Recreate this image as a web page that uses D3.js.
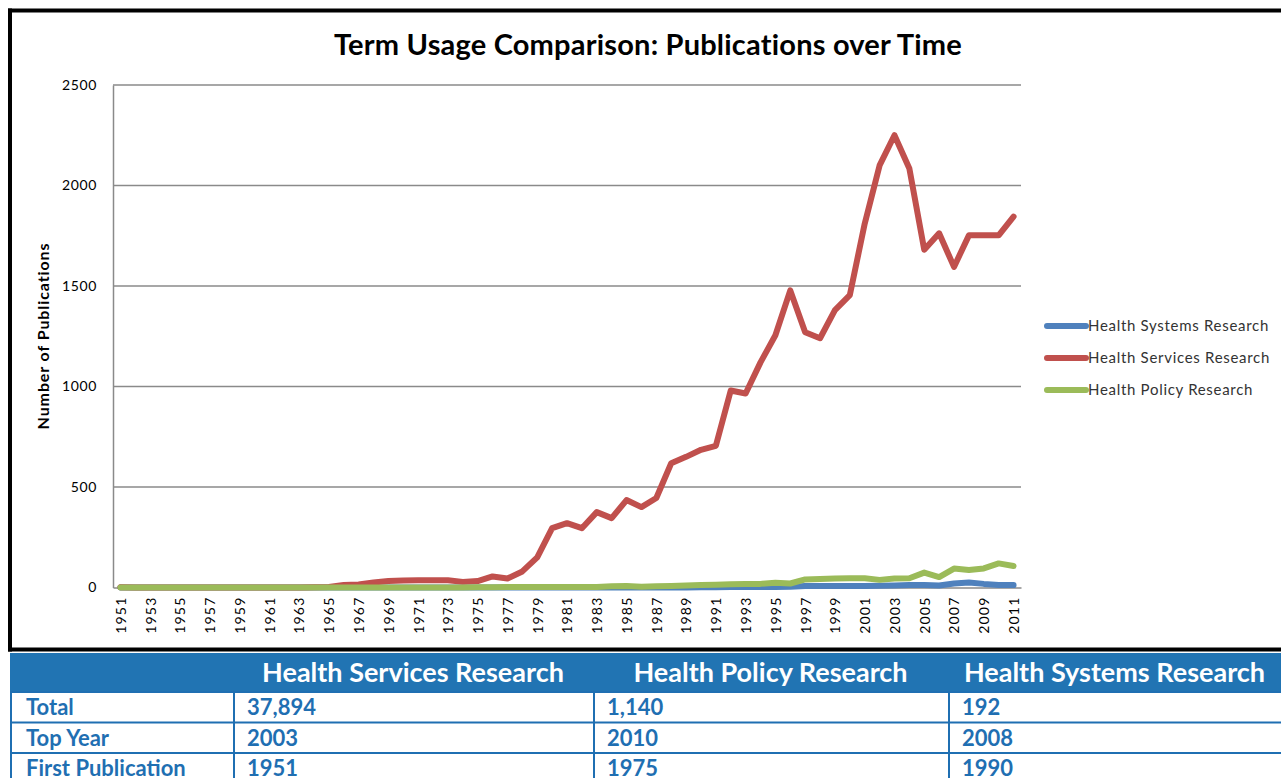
<!DOCTYPE html>
<html>
<head>
<meta charset="utf-8">
<script src="https://cdn.jsdelivr.net/npm/d3@7/dist/d3.min.js"></script>
<style>
  html, body { margin: 0; padding: 0; background: #fff; }
  svg { display: block; font-family: Lato, "Open Sans", sans-serif; }
</style>
</head>
<body>
<div id="chart"></div>
<script>
// data
const years = d3.range(1951, 2012);

const systemsVals = [
  0,0,0,0,0,0,0,0,0,0, 0,0,0,0,0,0,0,0,0,0,   // 1951-1970
  0,0,0,0,0,0,0,0,0,0, 0,0,0,0,0,0,0,0,0,1,   // 1971-1990
  1,2,2,3,3,4,8,8,8,8, 8,9,10,12,12,10,20,25,18,13, // 1991-2010
  12                                          // 2011
];
const servicesVals = [
  1,0,0,0,0,0,0,0,0,0, 0,0,0,1,3,12,15,25,32,35,
  36,36,36,28,32,55,45,80,150,295, 320,295,375,345,435,400,445,618,650,685,
  705,980,965,1120,1255,1478,1270,1240,1380,1455, 1810,2100,2250,2085,1680,1762,1595,1752,1752,1752,
  1845
];
const policyVals = [
  0,0,0,0,0,0,0,0,0,0, 0,0,0,0,0,0,0,0,0,0,
  0,0,0,0,1,1,2,2,2,2, 3,3,3,6,7,4,6,8,10,12,
  14,16,17,18,24,20,40,42,45,46, 46,38,45,46,74,52,94,87,95,120,
  107
];

const seriesNames = ["Health Systems Research", "Health Services Research", "Health Policy Research"];
const seriesColors = ["#4f81bd", "#c0504d", "#9bbb59"];
const yTicks = [0, 500, 1000, 1500, 2000, 2500];

const tableHead = ["", "Health Services Research", "Health Policy Research", "Health Systems Research"];
const tableRows = [
  ["Total", "37,894", "1,140", "192"],
  ["Top Year", "2003", "2010", "2008"],
  ["First Publication", "1951", "1975", "1990"]
];

const W = 1281, H = 778;
const svg = d3.select("#chart").append("svg")
  .attr("width", W).attr("height", H);

// plot area
const plotL = 113, plotR = 1021, plotT = 85, plotB = 587.5;

const x = d3.scalePoint().domain(years).range([plotL, plotR]).padding(0.5);
const y = d3.scaleLinear().domain([0, 2500]).range([plotB, plotT]);

// title
svg.append("text")
  .attr("x", 648).attr("y", 55)
  .attr("text-anchor", "middle")
  .style("font-size", "29px").style("font-weight", "bold").style("fill", "#000")
  .style("letter-spacing", "0.2px")
  .text("Term Usage Comparison: Publications over Time");

// gridlines
svg.append("g").selectAll("line")
  .data(yTicks.filter(d => d > 0))
  .enter().append("line")
  .attr("x1", plotL).attr("x2", plotR)
  .attr("y1", d => y(d)).attr("y2", d => y(d))
  .attr("stroke", "#8a8a8a").attr("stroke-width", 1.5);

// y axis
const yAxis = d3.axisLeft(y).tickValues(yTicks).tickFormat(d3.format("d"))
  .tickSize(0).tickPadding(16);
const gy = svg.append("g").attr("transform", "translate(" + plotL + ",0)").call(yAxis);
gy.select(".domain").attr("stroke", "#8a8a8a").attr("stroke-width", 1.5);
gy.selectAll("text").style("font-size", "14px").style("fill", "#000")
  .style("letter-spacing", "0.6px")
  .attr("font-family", "Lato, sans-serif");

// x axis
const xAxis = d3.axisBottom(x)
  .tickValues(years.filter((d, i) => i % 2 === 0))
  .tickSize(0).tickPadding(8);
const gx = svg.append("g").attr("transform", "translate(0," + plotB + ")").call(xAxis);
gx.select(".domain").attr("stroke", "#8a8a8a").attr("stroke-width", 1.5);
gx.selectAll("text")
  .attr("transform", "rotate(-90)")
  .attr("text-anchor", "end")
  .attr("x", -9).attr("y", 0).attr("dy", "0.35em")
  .attr("font-family", "Lato, sans-serif")
  .style("font-size", "14px").style("fill", "#000").style("letter-spacing", "1.2px");

// y axis title
svg.append("text")
  .attr("transform", "translate(49,336) rotate(-90)")
  .attr("text-anchor", "middle")
  .style("font-size", "16px").style("font-weight", "bold").style("letter-spacing", "0.9px")
  .text("Number of Publications");

// lines
const allVals = [systemsVals, servicesVals, policyVals];
const line = d3.line().x((d, i) => x(years[i])).y(d => y(d));
svg.append("g").selectAll("path")
  .data(allVals)
  .enter().append("path")
  .attr("d", line)
  .attr("fill", "none")
  .attr("stroke", (d, i) => seriesColors[i])
  .attr("stroke-width", 6)
  .attr("stroke-linejoin", "round")
  .attr("stroke-linecap", "round");

// legend
const leg = svg.append("g").selectAll("g")
  .data(seriesNames)
  .enter().append("g")
  .attr("transform", (d, i) => "translate(1047," + (326 + i * 32) + ")");
leg.append("line")
  .attr("x1", 0).attr("x2", 39)
  .attr("stroke", (d, i) => seriesColors[i])
  .attr("stroke-width", 6).attr("stroke-linecap", "round");
leg.append("text")
  .attr("x", 41).attr("dy", "0.35em")
  .style("font-size", "15px").style("fill", "#333").style("letter-spacing", "0.7px")
  .text(d => d);

// chart frame
const frame = svg.append("g").attr("stroke", "#000").attr("stroke-width", 4);
frame.append("line").attr("x1", 8).attr("x2", W).attr("y1", 10.5).attr("y2", 10.5);
frame.append("line").attr("x1", 10).attr("x2", 10).attr("y1", 8.5).attr("y2", 651.5);
frame.append("line").attr("x1", 8).attr("x2", W).attr("y1", 649.5).attr("y2", 649.5);

// table
const colX = [10, 233, 593, 948, 1281];
const headTop = 653, headH = 39, rowH = 30.5;
const blue = "#1f6fb2";
svg.append("rect")
  .attr("x", colX[0]).attr("y", headTop)
  .attr("width", W - colX[0]).attr("height", headH)
  .attr("fill", "#2174b3");
svg.append("g").selectAll("text")
  .data(tableHead)
  .enter().append("text")
  .attr("x", (d, i) => (colX[i] + colX[i + 1]) / 2)
  .attr("y", headTop + 29)
  .attr("text-anchor", "middle")
  .style("font-size", "27px").style("font-weight", "bold").style("fill", "#fff")
  .text(d => d);

const rowsTop = headTop + headH;
const tg = svg.append("g");
// horizontal rules
tg.selectAll("line.h")
  .data(d3.range(tableRows.length + 1))
  .enter().append("line")
  .attr("class", "h")
  .attr("x1", colX[0]).attr("x2", W)
  .attr("y1", d => rowsTop + d * rowH).attr("y2", d => rowsTop + d * rowH)
  .attr("stroke", blue).attr("stroke-width", 2);
// vertical rules
tg.selectAll("line.v")
  .data(colX.slice(0, 4))
  .enter().append("line")
  .attr("class", "v")
  .attr("x1", d => d + 1).attr("x2", d => d + 1)
  .attr("y1", rowsTop).attr("y2", H)
  .attr("stroke", blue).attr("stroke-width", 2);
// cell text
tableRows.forEach((row, r) => {
  tg.selectAll("text.r" + r)
    .data(row)
    .enter().append("text")
    .attr("x", (d, i) => colX[i] + (i === 0 ? 16 : 14))
    .attr("y", rowsTop + r * rowH + 23)
    .style("font-size", "22px").style("font-weight", "bold").style("fill", blue)
    .text(d => d);
});
</script>
</body>
</html>
